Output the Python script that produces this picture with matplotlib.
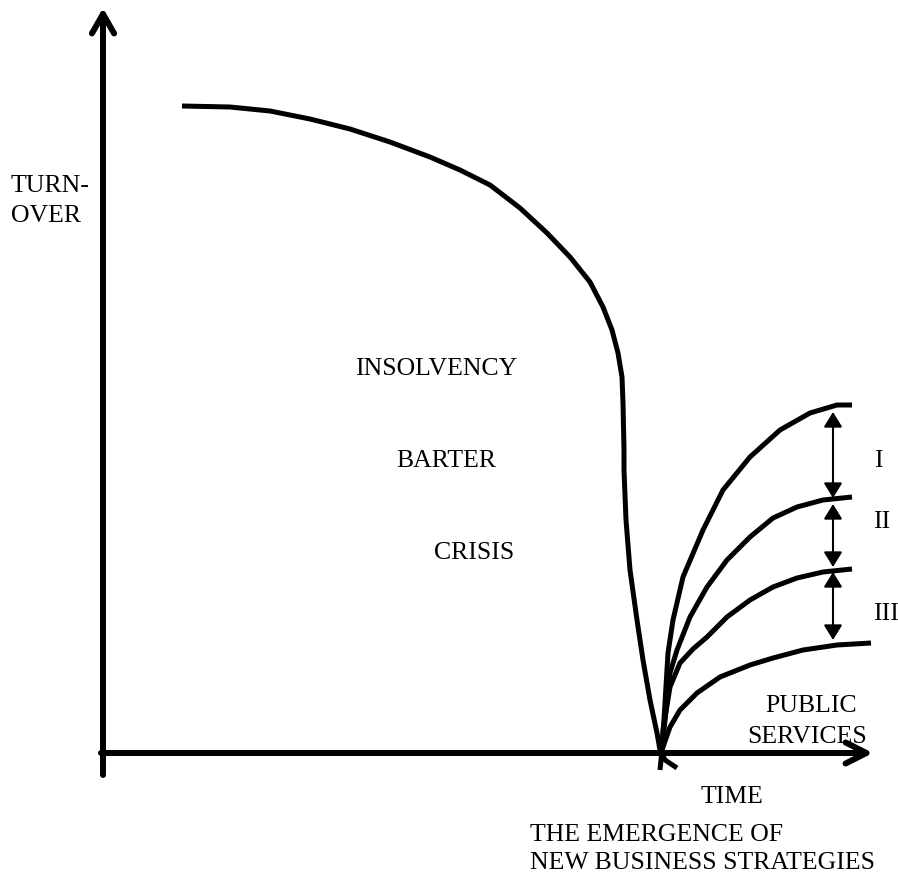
import matplotlib.pyplot as plt
import numpy as np

# Schematic: turnover vs time, crisis dip then recovery paths
# units: time / turnover measured from the axes origin

# Main decline curve (insolvency -> barter -> crisis)
decline_t = [79, 127, 167, 207, 247, 287, 327, 357, 387, 417, 444, 467, 487, 500, 509,
             515, 519, 520, 521, 521, 523, 527, 534, 540, 547, 554, 557, 562, 574]
decline_v = [647, 646, 642, 634, 624, 611, 596, 583, 568, 545, 520, 496, 471, 446, 423,
             400, 376, 350, 303, 283, 233, 183, 133, 93, 53, 20, 3, -7, -15]

# Recovery curves after the emergence of new business strategies
rec1_t = [557, 559, 562, 565, 570, 580, 600, 620, 647, 677, 707, 734, 749]
rec1_v = [-17, 3, 50, 100, 133, 176, 223, 263, 296, 323, 340, 348, 348]
rec2_t = [559, 562, 567, 574, 587, 604, 624, 647, 670, 694, 720, 749]
rec2_v = [3, 33, 80, 103, 136, 166, 193, 216, 235, 246, 253, 256]
rec3_t = [559, 560, 567, 577, 590, 604, 624, 647, 670, 694, 720, 749]
rec3_v = [3, 23, 66, 90, 104, 116, 136, 153, 166, 175, 181, 184]
rec4_t = [559, 560, 567, 577, 594, 617, 647, 670, 700, 734, 768]
rec4_v = [3, 6, 26, 43, 60, 76, 88, 95, 103, 108, 110]

# gaps between recovery levels
gap_t = 730
gap_top = [341, 249, 181]
gap_bottom = [255, 186, 113]
gap_labels = ["I", "II", "III"]
gap_label_t = [775, 779, 783]
gap_label_v = [286, 225, 133]

# text labels: (text, t, v, alignment)
labels = [
    ("TURN-", -92, 561, "left"),
    ("OVER", -92, 531, "left"),
    ("INSOLVENCY", 333, 378, "center"),
    ("BARTER", 343, 286, "center"),
    ("CRISIS", 371, 194, "center"),
    ("PUBLIC", 708, 41, "center"),
    ("SERVICES", 704, 10, "center"),
    ("TIME", 629, -50, "center"),
    ("THE EMERGENCE OF", 427, -88, "left"),
    ("NEW BUSINESS STRATEGIES", 427, -116, "left"),
]

x_axis_end = 770
y_axis_end = 745
y_axis_start = -22

fig = plt.figure(figsize=(8.98, 8.75), dpi=100)
ax = fig.add_axes([0, 0, 1, 1])
ax.set_xlim(-103, 795)
ax.set_ylim(-122, 753)
ax.axis("off")

lw_axis = 4.3
lw_curve = 3.6

# axes with open arrowheads
ax.annotate("", xy=(0, y_axis_end), xytext=(0, y_axis_start),
            arrowprops=dict(arrowstyle="->,head_length=0.7,head_width=0.4",
                            lw=lw_axis, color="black", mutation_scale=20,
                            shrinkA=0, shrinkB=0))
ax.annotate("", xy=(x_axis_end, 0), xytext=(-2, 0),
            arrowprops=dict(arrowstyle="->,head_length=0.75,head_width=0.38",
                            lw=lw_axis, color="black", mutation_scale=20,
                            shrinkA=0, shrinkB=0))

for t, v in [(decline_t, decline_v), (rec1_t, rec1_v), (rec2_t, rec2_v),
             (rec3_t, rec3_v), (rec4_t, rec4_v)]:
    ax.plot(t, v, color="black", lw=lw_curve, solid_capstyle="butt",
            solid_joinstyle="round")

for top, bot in zip(gap_top, gap_bottom):
    ax.annotate("", xy=(gap_t, top), xytext=(gap_t, bot),
                arrowprops=dict(arrowstyle="<|-|>,head_length=0.65,head_width=0.4",
                                lw=1.5, color="black", mutation_scale=14,
                                shrinkA=0, shrinkB=0))

for lab, t, v in zip(gap_labels, gap_label_t, gap_label_v):
    ax.text(t, v, lab, ha="center", va="baseline", fontsize=18.5,
            family="Liberation Serif")

for txt, t, v, ha in labels:
    ax.text(t, v, txt, ha=ha, va="baseline", fontsize=18.5,
            family="Liberation Serif")

fig.savefig("out.png", dpi=100)
